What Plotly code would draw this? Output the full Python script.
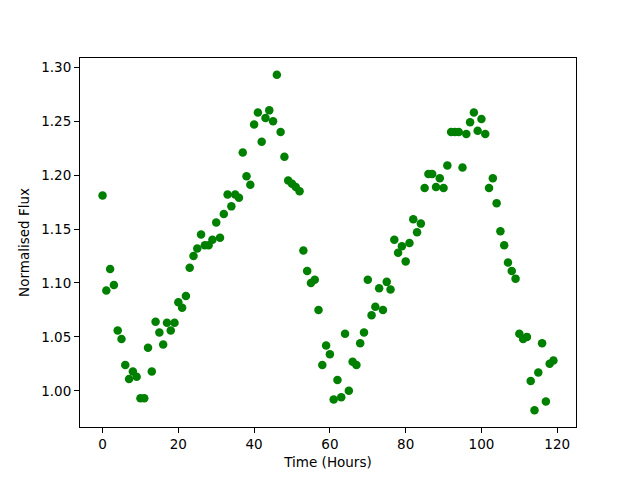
import plotly.graph_objects as go

hours = list(range(120))
flux = [
    1.181, 1.093, 1.113, 1.098, 1.056, 1.048, 1.024, 1.011, 1.018, 1.013,
    0.993, 0.993, 1.040, 1.018, 1.064, 1.054, 1.043, 1.063, 1.056, 1.063,
    1.082, 1.077, 1.088, 1.114, 1.125, 1.132, 1.145, 1.135, 1.135, 1.140,
    1.156, 1.142, 1.164, 1.182, 1.171, 1.182, 1.179, 1.221, 1.199, 1.191,
    1.247, 1.258, 1.231, 1.253, 1.260, 1.250, 1.293, 1.240, 1.217, 1.195,
    1.192, 1.189, 1.185, 1.130, 1.111, 1.100, 1.103, 1.075, 1.024, 1.042,
    1.034, 0.992, 1.010, 0.994, 1.053, 1.000, 1.027, 1.024, 1.044, 1.054,
    1.103, 1.070, 1.078, 1.095, 1.075, 1.101, 1.094, 1.140, 1.128, 1.134,
    1.120, 1.137, 1.159, 1.147, 1.155, 1.188, 1.201, 1.201, 1.189, 1.197,
    1.188, 1.209, 1.240, 1.240, 1.240, 1.207, 1.238, 1.249, 1.258, 1.241,
    1.252, 1.238, 1.188, 1.197, 1.174, 1.148, 1.135, 1.119, 1.111, 1.104,
    1.053, 1.048, 1.050, 1.009, 0.982, 1.017, 1.044, 0.990, 1.025, 1.028,
]

x_ticks = [0, 20, 40, 60, 80, 100, 120]
y_ticks = [1.00, 1.05, 1.10, 1.15, 1.20, 1.25, 1.30]

fig = go.Figure(go.Scatter(
    x=hours, y=flux, mode="markers",
    marker=dict(color="#008000", size=8.5),
    showlegend=False,
))

pad_x = 0.05 * (max(hours) - min(hours))
pad_y = 0.05 * (max(flux) - min(flux))

axis_common = dict(
    showline=True, linecolor="black", linewidth=1, mirror=True,
    ticks="outside", ticklen=5, tickwidth=1, tickcolor="black",
    showgrid=False, zeroline=False,
    tickfont=dict(family="DejaVu Sans", size=13.5, color="black"),
)

fig.update_layout(
    width=640, height=480,
    margin=dict(l=80, r=64, t=58, b=53),
    paper_bgcolor="white", plot_bgcolor="white",
    font=dict(family="DejaVu Sans", size=13.5, color="black"),
    xaxis=dict(
        range=[min(hours) - pad_x, max(hours) + pad_x],
        tickvals=x_ticks, ticktext=[str(v) for v in x_ticks],
        title=dict(text="Time (Hours)", standoff=6,
                   font=dict(family="DejaVu Sans", size=13.5)),
        **axis_common,
    ),
    yaxis=dict(
        range=[min(flux) - pad_y, max(flux) + pad_y],
        tickvals=y_ticks, ticktext=[f"{v:.2f}" for v in y_ticks],
        title=dict(text="Normalised Flux", standoff=8,
                   font=dict(family="DejaVu Sans", size=13.5)),
        **axis_common,
    ),
)

fig.write_html("out.html", config={"displayModeBar": False},
               post_script="document.body.style.margin='0';")
